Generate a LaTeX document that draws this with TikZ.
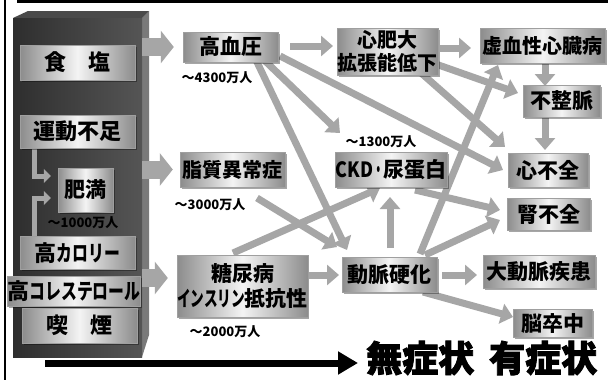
\documentclass[tikz,border=0pt]{standalone}
\usepackage{fontspec}
\setmainfont{Noto Sans CJK JP}
\newfontfamily\heavyjp{Noto Sans CJK JP}[FakeBold=2.5]
\usetikzlibrary{arrows.meta,calc,shadows}
\definecolor{boxedge}{HTML}{8C8C8C}
\definecolor{boxmid}{HTML}{F4F4F4}
\definecolor{arr}{HTML}{A6A6A6}
\definecolor{pleft}{HTML}{2E2E2E}
\definecolor{pright}{HTML}{555555}
\definecolor{pside}{HTML}{7A7A7A}
\definecolor{ptop}{HTML}{4A4A4A}
\pgfdeclarelayer{back}
\pgfdeclarelayer{mid}
\pgfsetlayers{back,mid,main}
\newcommand\kana[2][0.72]{\scalebox{#1}[1]{#2}}
\tikzset{
  gbox/.style={draw=gray!75, line width=0.4pt, left color=boxedge, right color=boxedge, middle color=boxmid,
    drop shadow={shadow xshift=1.5pt, shadow yshift=-1.5pt, fill=black, opacity=0.35},
    inner sep=0pt, align=center, font=\bfseries\fontsize{20}{25}\selectfont},
  bbox/.style={gbox, font=\bfseries\fontsize{21}{25}\selectfont},
  lbox/.style={gbox, font=\bfseries\fontsize{22}{25}\selectfont},
  num/.style={inner sep=0pt, font=\bfseries\fontsize{13}{14}\selectfont},
  garr/.style={draw=arr, line width=7pt, -{Triangle[width=20pt,length=12pt]}},
  bigarr/.style={draw=arr, line width=18pt, -{Triangle[width=32pt,length=13pt]}},
  larr/.style={draw=arr, line width=5pt, -{Triangle[width=14pt,length=7pt]}},
}
\begin{document}
\begin{tikzpicture}[x=1pt,y=-1pt]
\useasboundingbox (0,0) rectangle (608,380);
% 3D panel
\begin{pgfonlayer}{back}
\fill[white] (0,0) rectangle (608,380);
\fill[pside] (142,18) -- (149,11) -- (149,335) -- (142,357) -- cycle;
\fill[ptop] (13,18) -- (28,11) -- (149,11) -- (142,18) -- cycle;
\node[left color=pleft, right color=pright, inner sep=0pt, minimum width=129pt, minimum height=339pt] (panel) at (77.5,187.5) {};
\end{pgfonlayer}
% frame lines
\draw[line width=3pt] (17,1.5) -- (608,1.5);
\draw[line width=2pt] (5,0) -- (5,380);
% left factors
\node[lbox, minimum width=115pt, minimum height=35pt] (shio) at (77.5,62.5) {食　塩};
\node[lbox, minimum width=115pt, minimum height=33pt] (undo) at (77.5,131.5) {運動不足};
\node[bbox, minimum width=55pt, minimum height=44pt] (himan) at (85.5,190) {肥満};
\node[num, text=black] (n1000) at (83,223) {〜1000万人};
\node[lbox, minimum width=115pt, minimum height=33pt] (kcal) at (77.5,253) {高\kana{カロリー}};
\node[lbox, minimum width=130pt, minimum height=30pt] (chol) at (74,291) {高\kana{コレステロール}};
\node[lbox, minimum width=115pt, minimum height=35pt] (smoke) at (79.5,325.5) {喫　煙};
% middle column
\node[bbox, minimum width=95pt, minimum height=30pt] (kouketsu) at (230.5,47) {高血圧};
\node[num] (n4300) at (217,78) {〜4300万人};
\node[gbox, minimum width=105pt, minimum height=35pt] (shishitsu) at (232.5,169.5) {脂質異常症};
\node[num] (n3000) at (210,205) {〜3000万人};
\node[bbox, minimum width=119pt, minimum height=62pt] (tounyou) at (242.5,286) {糖尿病\\\kana[0.65]{インスリン}抵抗性};
\node[num] (n2000) at (225,332) {〜2000万人};
% right part
\node[gbox, minimum width=101pt, minimum height=47pt, font=\bfseries\fontsize{20}{23}\selectfont] (shinhidai) at (387.5,51.5) {心肥大\\拡張能低下};
\node[gbox, minimum width=125pt, minimum height=35pt] (kyoketsu) at (542.5,45.5) {虚血性心臓病};
\node[bbox, minimum width=77pt, minimum height=32pt] (fusei) at (561.5,101) {不整脈};
\node[bbox, minimum width=80pt, minimum height=34pt] (shinfuzen) at (548,170) {心不全};
\node[bbox, minimum width=112pt, minimum height=35pt] (ckd) at (391,169.5) {\kana[0.85]{CKD}\kana[0.5]{・}尿蛋白};
\node[num] (n1300) at (381,142) {〜1300万人};
\node[bbox, minimum width=83pt, minimum height=32pt] (jinfuzen) at (548.5,214) {腎不全};
\node[bbox, minimum width=95pt, minimum height=35pt] (doumyaku) at (389.5,274.5) {動脈硬化};
\node[bbox, minimum width=112pt, minimum height=33pt] (daidou) at (539,271.5) {大動脈疾患};
\node[bbox, minimum width=79pt, minimum height=28pt] (nou) at (552.5,323.5) {脳卒中};
% bottom
\node[anchor=west, inner sep=0pt, font=\heavyjp\bfseries\fontsize{36}{36}\selectfont] (sym) at (366,358) {無症状\hspace{15pt}有症状};
\coordinate (astart) at (45,363);
\draw[line width=7pt, -{Triangle[width=22pt,length=20pt]}, shorten >=8pt] (astart) -- (astart -| sym.west);
% arrows
\begin{pgfonlayer}{mid}
\draw[bigarr] (panel.east |- kouketsu) -- ([xshift=-9pt]kouketsu.west);
\draw[bigarr] (panel.east |- shishitsu) -- ([xshift=-7pt]shishitsu.west);
\draw[bigarr] ($(panel.east |- tounyou)+(0,-8)$) -- ($(tounyou.west)+(-9,-8)$);
\draw[larr] ($(undo.south west)+(15,0)$) |- ($(himan.west)+(-7,-14)$);
\draw[larr] ($(kcal.north west)+(15,0)$) |- ($(himan.west)+(-7,8)$);
\draw[garr] ($(kouketsu)+(59.5,-1)$) -- ($(shinhidai)+(-54.5,-5.5)$);
\draw[garr] ($(shinhidai)+(52.5,-3.5)$) -- ($(kyoketsu)+(-71.5,2.5)$);
\draw[garr] ($(shinhidai)+(42.5,10.5)$) -- ($(fusei)+(-43.5,-8)$);
\draw[garr] ($(shinhidai)+(32.5,20.5)$) -- ($(shinfuzen)+(-43,-23)$);
\draw[garr] ($(kouketsu)+(49.5,9)$) -- ($(shinfuzen)+(-45,0)$);
\draw[garr] ($(kouketsu)+(31.5,11)$) -- ($(ckd)+(-51,-36.5)$);
\draw[garr] ($(kouketsu)+(25.5,13)$) -- ($(doumyaku)+(-42.5,-24.5)$);
\draw[garr] ($(shishitsu)+(24.5,28.5)$) -- ($(doumyaku)+(-52.5,-27.5)$);
\draw[garr] ($(tounyou)+(-9.5,-33)$) -- ($(ckd)+(-11,18.5)$);
\draw[garr] ($(tounyou)+(62.5,-11)$) -- ($(doumyaku)+(-50.5,0.5)$);
\draw[garr] ($(doumyaku)+(0.5,-26.5)$) -- ($(ckd)+(-1,27.5)$);
\draw[garr] ($(doumyaku)+(30.5,-20.5)$) -- ($(kyoketsu)+(-44.5,19.5)$);
\draw[garr] ($(doumyaku)+(35.5,-19.5)$) -- ($(jinfuzen)+(-48.5,6)$);
\draw[garr] ($(ckd)+(24,20.5)$) -- ($(jinfuzen)+(-48.5,-4)$);
\draw[garr] ($(doumyaku)+(52.5,0.5)$) -- ($(daidou)+(-62,3.5)$);
\draw[garr] ($(doumyaku)+(33.5,17.5)$) -- ($(nou)+(-39.5,-6.5)$);
\draw[garr] ($(kyoketsu)+(2.5,18.5)$) -- ($(fusei)+(-16.5,-15)$);
\draw[garr] ($(fusei)+(-16.5,16)$) -- ($(shinfuzen)+(-3,-20)$);
\end{pgfonlayer}
\end{tikzpicture}
\end{document}
